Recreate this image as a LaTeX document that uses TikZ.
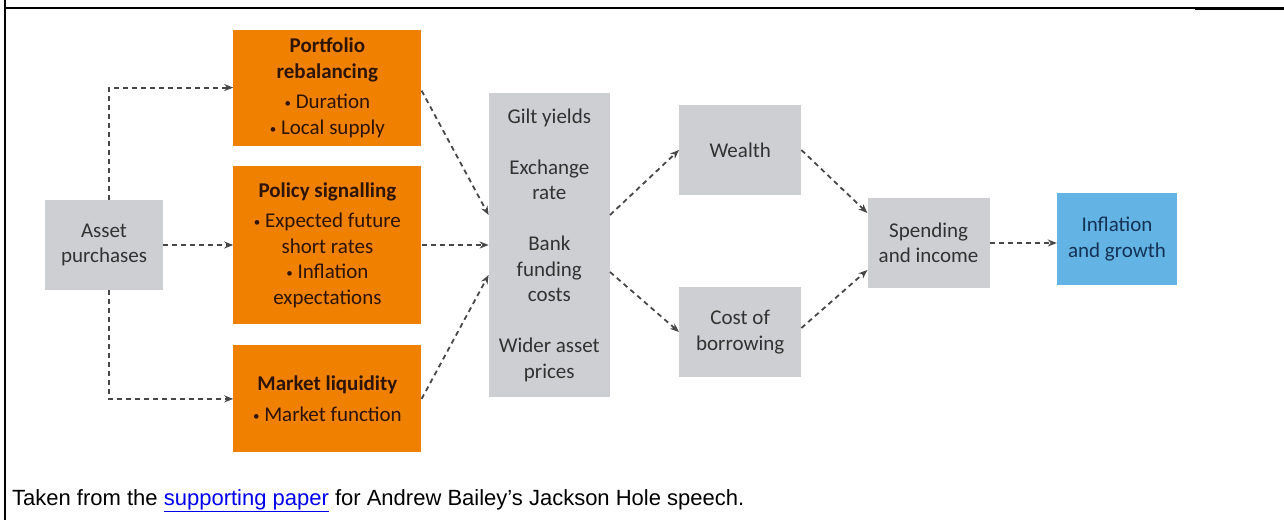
\documentclass[tikz,border=0pt]{standalone}
\usepackage{fontspec}
\setmainfont{Carlito}
\newfontfamily\captionfont{Liberation Sans}
\usepackage{tikz}
\usetikzlibrary{positioning}
\usetikzlibrary{arrows.meta}
\definecolor{boeorange}{RGB}{240,128,0}
\definecolor{boegrey}{RGB}{206,207,210}
\definecolor{boeblue}{RGB}{99,180,228}
\definecolor{browntext}{RGB}{45,20,5}
\definecolor{navytext}{RGB}{20,50,85}
\definecolor{greytext}{RGB}{50,50,50}
\definecolor{linkblue}{RGB}{0,0,238}
\newcommand{\bul}{\raisebox{1pt}{\fontsize{13}{13}\selectfont•}\ }
\tikzset{
    transmission/.style={
            x=1pt,y=-1pt,
            box/.style={inner sep=0pt,align=center,font=\fontsize{21}{25.5}\selectfont},
            greybox/.style={box,fill=boegrey,text=greytext},
            orangebox/.style={box,fill=boeorange,text=browntext,minimum width=188pt},
            bluebox/.style={box,fill=boeblue,text=navytext},
            flow/.style={-{Stealth[length=9pt,width=7pt]},line width=1.8pt,
                draw=black!72,dash pattern=on 5pt off 4pt}
        }
    }
\begin{document}
\begin{tikzpicture}[transmission]
    \useasboundingbox (0,0) rectangle (1284,520);
    \draw [line width=2.5pt] (5,0) -- (5,520);
    \draw [line width=1.2pt] (5,8) -- (1195,8);
    \draw [line width=2.5pt] (1195,8.5) -- (1284,8.5);
    \node (asset) [greybox, minimum width=118pt, minimum height=90pt] at (104,245) {Asset\\purchases};
    \node (policy) [orangebox, minimum height=158pt, right=70pt of asset] {\textbf{Policy signalling}\\[5pt]\bul Expected future\\short rates\\\bul Inflation\\expectations};
    \node (port) [orangebox, minimum height=116pt, above=20pt of policy] {\textbf{Portfolio}\\\textbf{rebalancing}\\[5pt]\bul Duration\\\bul Local supply};
    \node (market) [orangebox, minimum height=107pt, below=21pt of policy] {\textbf{Market liquidity}\\[5pt]\bul Market function};
    \node (mid) [greybox, minimum width=121pt, minimum height=304pt, right=67pt of policy] {Gilt yields\\[25.5pt]Exchange\\rate\\[25.5pt]Bank\\funding\\costs\\[25.5pt]Wider asset\\prices};
    \node (wealth) [greybox, minimum width=122pt, minimum height=90pt, right=69pt of mid, yshift=95pt] {Wealth};
    \node (cost) [greybox, minimum width=122pt, minimum height=90pt, right=69pt of mid, yshift=-87pt] {Cost of\\borrowing};
    \node (spend) [greybox, minimum width=122pt, minimum height=90pt, right=66pt of wealth, yshift=-93pt] {Spending\\and income};
    \node (infl) [bluebox, minimum width=120pt, minimum height=92pt, right=67pt of spend, yshift=4pt] {Inflation\\and growth};
    \draw [flow] ([xshift=5pt]asset.north) |- (port.west);
    \draw [flow] (asset) -- (policy);
    \draw [flow] ([xshift=5pt]asset.south) |- (market.west);
    \draw [flow] ([yshift=-3pt]port.east) -- ([yshift=30pt]mid.west);
    \draw [flow] (policy) -- (mid);
    \draw [flow] (market.east) -- ([yshift=-30pt]mid.west);
    \draw [flow] ([yshift=30pt]mid.east) -- (wealth.west);
    \draw [flow] ([yshift=-27pt]mid.east) -- (cost.west);
    \draw [flow] (wealth.east) -- ([yshift=30pt]spend.west);
    \draw [flow] ([yshift=4pt]cost.east) -- ([yshift=-27pt]spend.west);
    \draw [flow] (spend) -- (spend -| infl.west);
    \node (caption) [anchor=base west, inner sep=0pt, font=\captionfont\fontsize{22}{26}\selectfont] at (12,505) {Taken from the {\color{linkblue}\underline{supporting paper}} for Andrew Bailey’s Jackson Hole speech.};
\end{tikzpicture}
\end{document}
